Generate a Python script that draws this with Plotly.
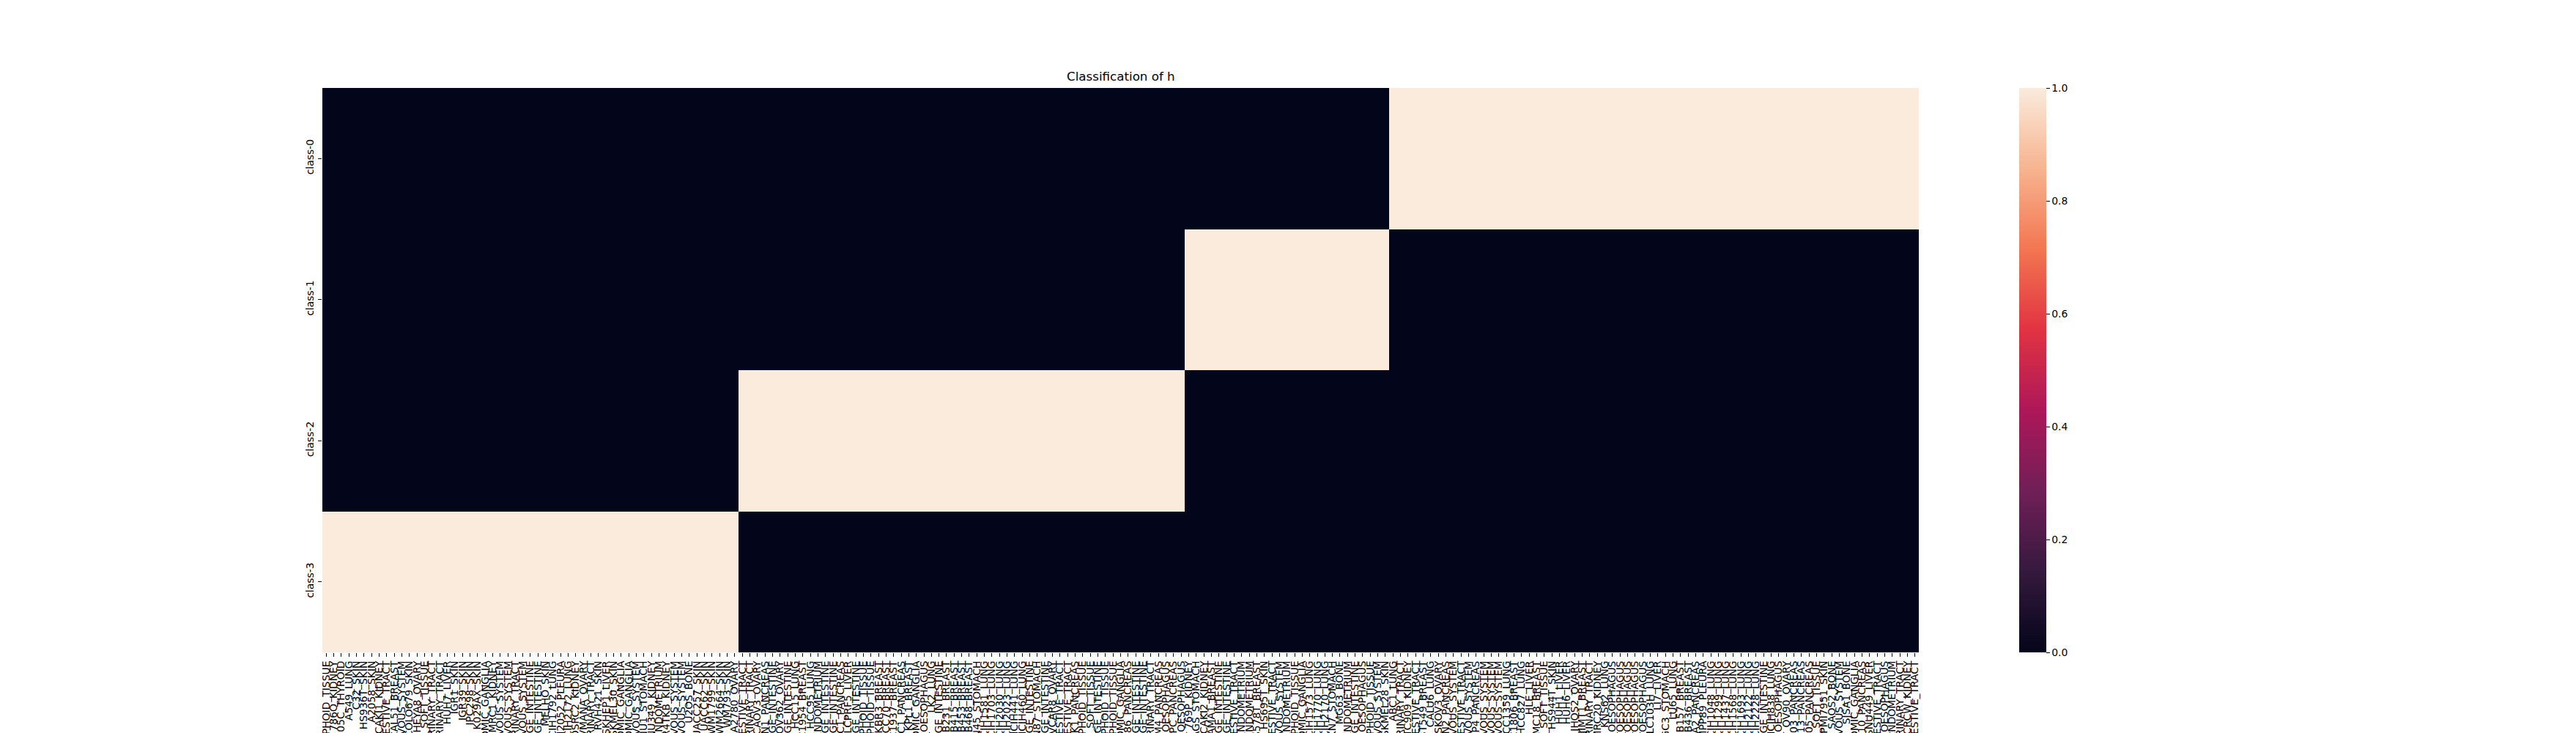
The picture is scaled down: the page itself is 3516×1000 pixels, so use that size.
import plotly.graph_objects as go

# ---------------- data ----------------
title_text = "Classification of h"
class_labels = ["class-0", "class-1", "class-2", "class-3"]

cell_lines = [
    "KMS11_HAEMATOPOIETIC_AND_LYMPHOID_TISSUE", "786O_KIDNEY", "8305C_THYROID", "A549_LUNG", "C32_SKIN", "HS936T_SKIN", "A2058_SKIN", "CAKI1_KIDNEY", "DETROIT562_UPPER_AERODIGESTIVE_TRACT", "CAL51_BREAST",
    "SF295_CENTRAL_NERVOUS_SYSTEM", "COLO679_SKIN", "HEYA8_OVARY", "A204_SOFT_TISSUE", "T24_URINARY_TRACT", "J82_URINARY_TRACT", "HUH7_LIVER", "IGR1_SKIN", "IGR39_SKIN", "IPC298_SKIN",
    "K029AX_SKIN", "KELLY_AUTONOMIC_GANGLIA", "KMRC1_KIDNEY", "LN229_CENTRAL_NERVOUS_SYSTEM", "SF268_CENTRAL_NERVOUS_SYSTEM", "UMUC3_URINARY_TRACT", "U87MG_CENTRAL_NERVOUS_SYSTEM", "HCT116_LARGE_INTESTINE", "SW480_LARGE_INTESTINE", "MELHO_SKIN",
    "NCIH1792_LUNG", "NCIH2052_PLEURA", "NCIH2172_LUNG", "OSRC2_KIDNEY", "OVMANA_OVARY", "RT4_URINARY_TRACT", "RVH421_SKIN", "SKHEP1_LIVER", "SKMEL30_SKIN", "SKNAS_AUTONOMIC_GANGLIA",
    "SKNSH_AUTONOMIC_GANGLIA", "SNB75_CENTRAL_NERVOUS_SYSTEM", "SNU1_STOMACH", "SNU349_KIDNEY", "AN3CA_ENDOMETRIUM", "TUHR4TKB_KIDNEY", "U118MG_CENTRAL_NERVOUS_SYSTEM", "U251MG_CENTRAL_NERVOUS_SYSTEM", "U2OS_BONE", "UACC257_SKIN",
    "UACC62_SKIN", "WM1799_SKIN", "WM2664_SKIN", "WM793_SKIN", "A2780_OVARY", "BICR22_UPPER_AERODIGESTIVE_TRACT", "BFTC905_URINARY_TRACT", "CAOV3_OVARY", "CAPAN1_PANCREAS", "COLO320_LARGE_INTESTINE",
    "COV362_OVARY", "DLD1_LARGE_INTESTINE", "HCC15_LUNG", "HCC1954_BREAST", "HCC95_LUNG", "HEC1A_ENDOMETRIUM", "HT29_LARGE_INTESTINE", "LS180_LARGE_INTESTINE", "PANC1_PANCREAS", "PLCPRF5_LIVER",
    "LOVO_LARGE_INTESTINE", "HH_HAEMATOPOIETIC_AND_LYMPHOID_TISSUE", "JURKAT_HAEMATOPOIETIC_AND_LYMPHOID_TISSUE", "SKBR3_BREAST", "HCC70_BREAST", "HCC1937_BREAST", "ASPC1_PANCREAS", "KPL1_BREAST", "KPNYN_AUTONOMIC_GANGLIA", "KYSE30_OESOPHAGUS",
    "LK2_LUNG", "LS513_LARGE_INTESTINE", "MDAMB231_BREAST", "MDAMB415_BREAST", "MDAMB453_BREAST", "MDAMB468_BREAST", "MKN45_STOMACH", "NCIH1581_LUNG", "NCIH1703_LUNG", "NCIH2030_LUNG",
    "NCIH2023_LUNG", "NCIH441_LUNG", "NCIH460_LUNG", "NCIH716_LARGE_INTESTINE", "NCIN87_STOMACH", "NCIH508_LARGE_INTESTINE", "OVCAR8_OVARY", "PECAPJ49_UPPER_AERODIGESTIVE_TRACT", "SCC25_UPPER_AERODIGESTIVE_TRACT", "PK1_PANCREAS",
    "P31FUJ_HAEMATOPOIETIC_AND_LYMPHOID_TISSUE", "RD_SOFT_TISSUE", "SNUC1_LARGE_INTESTINE", "SUPB15_HAEMATOPOIETIC_AND_LYMPHOID_TISSUE", "THP1_HAEMATOPOIETIC_AND_LYMPHOID_TISSUE", "SHSY5Y_AUTONOMIC_GANGLIA", "SU8686_PANCREAS", "SW1116_LARGE_INTESTINE", "SW620_LARGE_INTESTINE", "SW780_URINARY_TRACT",
    "T3M4_PANCREAS", "TE1_OESOPHAGUS", "YAPC_PANCREAS", "TE10_OESOPHAGUS", "769P_KIDNEY", "AGS_STOMACH", "CAKI2_KIDNEY", "CAMA1_BREAST", "COLO201_LARGE_INTESTINE", "GP2D_LARGE_INTESTINE",
    "FADU_UPPER_AERODIGESTIVE_TRACT", "HEC59_ENDOMETRIUM", "ISHIKAWAHERAKLIO02ER_ENDOMETRIUM", "HS578T_BREAST", "HS695T_SKIN", "HSC3_UPPER_AERODIGESTIVE_TRACT", "SNB19_CENTRAL_NERVOUS_SYSTEM", "KLE_ENDOMETRIUM", "KMS12BM_HAEMATOPOIETIC_AND_LYMPHOID_TISSUE", "LAN6_AUTONOMIC_GANGLIA",
    "NCIH1573_LUNG", "NCIH1770_LUNG", "NCIH2170_LUNG", "MKN7_STOMACH", "MG63_BONE", "MFE280_ENDOMETRIUM", "NCIH747_LARGE_INTESTINE", "OE19_OESOPHAGUS", "OCILY19_HAEMATOPOIETIC_AND_LYMPHOID_TISSUE", "SF539_CENTRAL_NERVOUS_SYSTEM",
    "SKMEL28_SKIN", "ABC1_LUNG", "SW1710_URINARY_TRACT", "BFTC909_KIDNEY", "BICR6_UPPER_AERODIGESTIVE_TRACT", "BT549_BREAST", "CALU6_LUNG", "SKOV3_OVARY", "CAPAN2_PANCREAS", "DAOY_CENTRAL_NERVOUS_SYSTEM",
    "DOK_UPPER_AERODIGESTIVE_TRACT", "GAMG_CENTRAL_NERVOUS_SYSTEM", "KP4_PANCREAS", "GB1_CENTRAL_NERVOUS_SYSTEM", "GI1_CENTRAL_NERVOUS_SYSTEM", "H4_CENTRAL_NERVOUS_SYSTEM", "HCC1359_LUNG", "HCC1806_BREAST", "HCC827_LUNG", "HLE_LIVER",
    "HMC18_BREAST", "HS729_SOFT_TISSUE", "HS944T_SKIN", "HUH1_LIVER", "HUH6_LIVER", "JHOS2_OVARY", "JIMT1_BREAST", "KMBC2_URINARY_TRACT", "KMRC20_KIDNEY", "KNS62_LUNG",
    "KYSE140_OESOPHAGUS", "KYSE150_OESOPHAGUS", "KYSE180_OESOPHAGUS", "KYSE410_OESOPHAGUS", "KYSE510_OESOPHAGUS", "LCLC103H_LUNG", "LI7_LIVER", "NUGC3_STOMACH", "LU65_LUNG", "MDAMB157_BREAST",
    "MDAMB436_BREAST", "MIAPACA2_PANCREAS", "MPP89_PLEURA", "NCIH1048_LUNG", "NCIH1299_LUNG", "NCIH1437_LUNG", "NCIH1568_LUNG", "NCIH1693_LUNG", "NCIH2122_LUNG", "NCIH2228_LUNG",
    "NCIH498_LARGE_INTESTINE", "NCIH838_LUNG", "OE33_OESOPHAGUS", "OV90_OVARY", "PANC0203_PANCREAS", "PANC0813_PANCREAS", "PANC1005_PANCREAS", "RH30_SOFT_TISSUE", "RPMI7951_SKIN", "SAOS2_BONE",
    "SF126_CENTRAL_NERVOUS_SYSTEM", "SJSA1_BONE", "SKNDZ_AUTONOMIC_GANGLIA", "SNU410_PANCREAS", "SNU449_LIVER", "SNU899_UPPER_AERODIGESTIVE_TRACT", "TE9_OESOPHAGUS", "TEN_ENDOMETRIUM", "TCCSUP_URINARY_TRACT", "VMRCRCW_KIDNEY",
    "YD38_UPPER_AERODIGESTIVE_TRACT",
]

# contiguous column groups, left to right: assigned class and number of columns
group_class = [3, 2, 1, 0]
group_size = [55, 59, 27, 70]

colorbar_ticks = [0.0, 0.2, 0.4, 0.6, 0.8, 1.0]

# ---------------- build matrix ----------------
column_class = []
for c, n in zip(group_class, group_size):
    column_class += [c] * n
ncol = len(column_class)
labels = (cell_lines + [""] * ncol)[:ncol]

z = [[1.0 if column_class[j] == r else 0.0 for j in range(ncol)] for r in range(len(class_labels))]

rocket = [
    [0.0, "#03051a"],
    [1 / 7, "#35193e"],
    [2 / 7, "#701f57"],
    [3 / 7, "#ad1759"],
    [4 / 7, "#e13342"],
    [5 / 7, "#f37651"],
    [6 / 7, "#f6b48f"],
    [1.0, "#faebdd"],
]

FONT = "DejaVu Sans"
OFF = 8  # default page body margin
W, H = 3516 - OFF, 1000 - OFF
L, R, T, B = 439.5 - OFF, 2619.4 - OFF, 120 - OFF, 890 - OFF
CB_X = 2756 - OFF

fig = go.Figure(
    go.Heatmap(
        z=z,
        x=list(range(ncol)),
        y=list(range(len(class_labels))),
        zmin=0, zmax=1,
        colorscale=rocket,
        hoverongaps=False,
        colorbar=dict(
            x=(CB_X - L) / (R - L), xanchor="left", xpad=0,
            y=0.5, yanchor="middle", len=1.0, lenmode="fraction", ypad=0,
            thickness=37, outlinewidth=0,
            tickmode="array", tickvals=colorbar_ticks,
            ticktext=[f"{v:.1f}" for v in colorbar_ticks],
            ticks="outside", ticklen=5, tickwidth=1.1, tickcolor="black",
            tickfont=dict(family=FONT, size=13.9, color="black"),
        ),
    )
)

fig.update_xaxes(
    range=[-0.5, ncol - 0.5],
    tickmode="array", tickvals=list(range(ncol)), ticktext=labels,
    tickangle=-90, ticks="outside", ticklen=5, tickwidth=1.1, tickcolor="black",
    tickfont=dict(family=FONT, size=13.9, color="black"),
    showgrid=False, zeroline=False, showline=False, automargin=False,
)
fig.update_yaxes(
    range=[len(class_labels) - 0.5, -0.5],
    tickmode="array", tickvals=list(range(len(class_labels))), ticktext=class_labels,
    tickangle=-90, ticks="outside", ticklen=5, tickwidth=1.1, tickcolor="black",
    tickfont=dict(family=FONT, size=13.9, color="black"),
    showgrid=False, zeroline=False, showline=False, automargin=False,
)

fig.add_annotation(
    text=title_text, xref="paper", yref="paper", x=0.5, y=1.0,
    xanchor="center", yanchor="bottom", yshift=4, showarrow=False,
    font=dict(family=FONT, size=16.7, color="black"),
)

fig.update_layout(
    width=W, height=H,
    margin=dict(l=L, r=W - R, t=T, b=H - B, pad=0),
    paper_bgcolor="white", plot_bgcolor="white",
    font=dict(family=FONT, color="black"),
    showlegend=False,
)

fig.write_html("out.html")
